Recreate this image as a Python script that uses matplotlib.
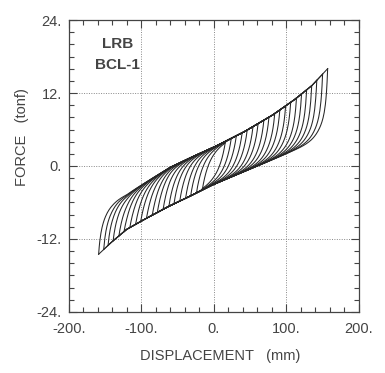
import numpy as np
import matplotlib
matplotlib.use("Agg")
from matplotlib import pyplot as plt
from matplotlib.ticker import MultipleLocator, FuncFormatter

# loop peaks (mm)
pos_peak = [16, 24, 31, 39, 46, 54, 61, 69, 76, 84, 91, 99, 106, 114, 121, 128, 135, 142, 150, 157]
neg_peak = [-16, -24, -32, -39, -47, -55, -62, -70, -78, -85, -93, -101, -108, -116, -124, -131, -139, -146, -152, -159]

# loading (upper) and unloading (lower) bands
band_x = [-165, -140, -120, -90, -60, -30, 0, 40, 80, 110, 135, 160]
band_upper = [-6.6, -5.6, -4.6, -2.4, -0.2, 1.5, 3.1, 5.5, 8.3, 10.8, 13.2, 16.4]
band_lower = [-15.2, -12.4, -10.4, -8.4, -6.5, -4.8, -3.0, -1.0, 1.0, 2.5, 3.7, 5.0]

gap0 = 6.0      # gap of the bands near the origin
d_slow = 10.0
d_fast = 2.0


def upper(x):
    return np.interp(x, band_x, band_upper)


def lower(x):
    return np.interp(x, band_x, band_lower)


def branch(x0, x1, base, gap):
    s = np.abs(np.linspace(0, 1, 400) * (x1 - x0))
    x = x0 + np.sign(x1 - x0) * s
    w = max(0.0, 1.0 - gap0 / abs(gap))
    shape = w * np.exp(-s / d_fast) + (1 - w) * np.exp(-s / d_slow)
    return x, base(x) + gap * shape


fig = plt.figure(figsize=(3.85, 3.73), dpi=100)
ax = fig.add_axes([0.179, 0.164, 0.753, 0.782])

for ap, an in zip(pos_peak, neg_peak):
    # loading from negative peak
    g = lower(an) - upper(an)
    x, f = branch(an, ap, upper, g)
    ax.plot(x, f, color="#262626", lw=0.75)
    # unloading from positive peak
    g = upper(ap) - lower(ap)
    x, f = branch(ap, an, lower, g)
    ax.plot(x, f, color="#262626", lw=0.75)

ax.set_xlim(-200, 200)
ax.set_ylim(-24, 24)
ax.xaxis.set_major_locator(MultipleLocator(100))
ax.xaxis.set_minor_locator(MultipleLocator(20))
ax.yaxis.set_major_locator(MultipleLocator(12))
ax.yaxis.set_minor_locator(MultipleLocator(2))
fmt = FuncFormatter(lambda v, p: "%d." % v)
ax.xaxis.set_major_formatter(fmt)
ax.yaxis.set_major_formatter(fmt)
ax.tick_params(which="both", direction="in", top=True, right=True, color="#444444",
               labelcolor="#444444", labelsize=10.5)
ax.tick_params(which="major", length=6, width=0.8)
ax.tick_params(which="minor", length=3.5, width=0.8)
ax.tick_params(axis="x", pad=7)
ax.tick_params(axis="y", pad=5)
for s in ax.spines.values():
    s.set_color("#444444")
    s.set_linewidth(0.9)
ax.grid(True, which="major", linestyle=(0, (1, 1.5)), color="#888888", lw=0.7)

fig.text(118 / 385, 1 - 44 / 373, "LRB", fontsize=11, fontweight="bold", color="#444444",
         ha="center", va="center", family="Liberation Sans")
fig.text(117 / 385, 1 - 65 / 373, "BCL-1", fontsize=11, fontweight="bold", color="#444444",
         ha="center", va="center", family="Liberation Sans")

fig.text(220 / 385, 1 - 356 / 373, "DISPLACEMENT   (mm)", fontsize=10.5, color="#444444",
         ha="center", va="center", family="Liberation Sans")
fig.text(22 / 385, 1 - 137 / 373, "FORCE   (tonf)", fontsize=10.5, color="#444444",
         ha="center", va="center", rotation=90, family="Liberation Sans")
for lab in ax.get_xticklabels() + ax.get_yticklabels():
    lab.set_family("Liberation Sans")

fig.savefig("out.png", dpi=100, facecolor="white")
